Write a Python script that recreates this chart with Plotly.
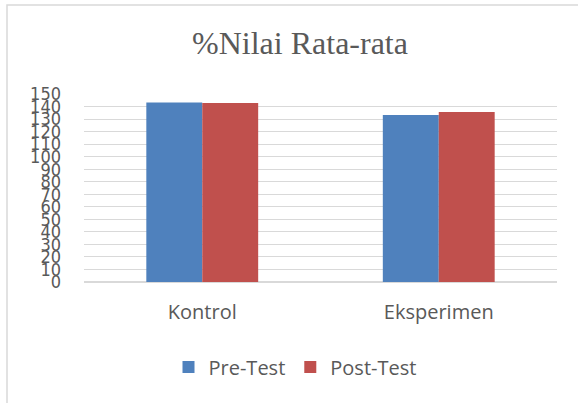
import plotly.graph_objects as go

categories = ["Kontrol", "Eksperimen"]
pre_test = [143.3, 133.3]
post_test = [142.8, 135.6]
series_names = ["Pre-Test", "Post-Test"]
title_text = "%Nilai Rata-rata"

W, H = 578, 403
ml, mr, mt, mb = 84, 21, 94, 121
ph = H - mt - mb
pw = W - ml - mr

fig = go.Figure()
fig.add_trace(go.Bar(x=categories, y=pre_test, name=series_names[0],
                     marker=dict(color="#4f81bd", line=dict(width=0))))
fig.add_trace(go.Bar(x=categories, y=post_test, name=series_names[1],
                     marker=dict(color="#c0504d", line=dict(width=0))))

fig.update_layout(
    width=W, height=H,
    margin=dict(l=ml, r=mr, t=mt, b=mb, pad=0),
    paper_bgcolor="white", plot_bgcolor="white",
    barmode="group", bargap=0.527, bargroupgap=0,
    title=dict(text=title_text, x=300 / W, xref="container", xanchor="center",
               y=1 - 43 / H, yref="container", yanchor="middle",
               font=dict(family="Liberation Serif", size=32, color="#595959")),
    legend=dict(orientation="h", x=(295 - ml) / pw, xanchor="center", y=(282 - 367) / ph,
                yanchor="middle", font=dict(family="Open Sans", size=20, color="#595959"),
                itemwidth=30, tracegroupgap=0),
    xaxis=dict(showline=True, linecolor="#d9d9d9", linewidth=1, ticks="",
               tickfont=dict(family="Open Sans", size=20, color="#595959"),
               ticklabelstandoff=12, showgrid=False),
    yaxis=dict(range=[0, 150], dtick=10, tick0=0, showgrid=True, gridcolor="#d9d9d9",
               gridwidth=1, zeroline=True, zerolinecolor="#d9d9d9", showline=False,
               ticks="", ticklabelstandoff=22,
               tickfont=dict(family="DejaVu Sans Condensed", size=18, color="#595959")),
    shapes=[dict(type="rect", xref="paper", yref="paper",
                 x0=(7 - ml) / pw, x1=(W + 20 - ml) / pw,
                 y0=(H - mb - 5) / ph, y1=(H - mb - H - 20) / ph,
                 line=dict(color="#d9d9d9", width=1.5), layer="below")],
)

fig.write_html("out.html", config={"displayModeBar": False},
               post_script="document.body.style.margin='0';document.body.style.overflow='hidden';")
